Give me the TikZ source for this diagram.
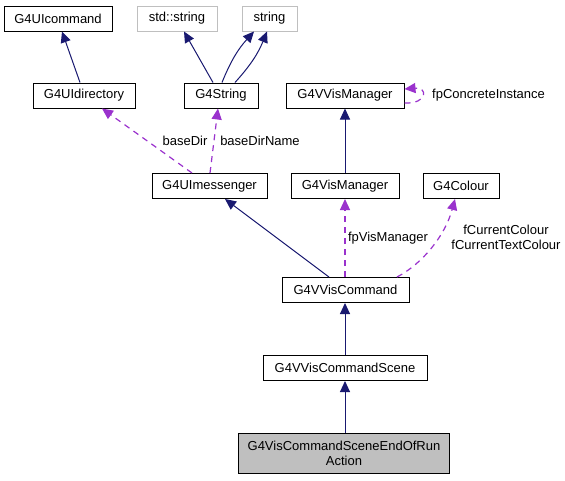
\documentclass[tikz,border=0pt]{standalone}
\usepackage{fontspec}
\setmainfont{Liberation Sans}
\usetikzlibrary{arrows.meta}
\definecolor{navy}{HTML}{191970}
\definecolor{orch}{HTML}{9A32CD}
\definecolor{lgray}{HTML}{BFBFBF}
\begin{document}
\begin{tikzpicture}[x=1pt,y=-1pt,
  every node/.style={font=\fontsize{13}{15}\selectfont, inner sep=0pt},
  cls/.style={draw=black, line width=1pt, fill=white, minimum height=25pt},
  ext/.style={draw=lgray, line width=1pt, fill=white, minimum height=25pt},
  inh/.style={draw=navy, line width=1pt, -{Triangle[length=11pt,width=10pt]}},
  use/.style={draw=orch, line width=1.2pt, dash pattern=on 6pt off 5pt, -{Triangle[length=11pt,width=10pt]}},
  lbl/.style={fill=none}]
\useasboundingbox (0,0) rectangle (565,480);
\node[cls, minimum width=108pt] (uicmd) at (58,18.5) {G4UIcommand};
\node[ext, minimum width=80pt] (stds) at (177,18.5) {std::string};
\node[ext, minimum width=55pt] (str) at (269.5,18.5) {string};
\node[cls, minimum width=102pt] (uidir) at (84,95.5) {G4UIdirectory};
\node[cls, minimum width=74pt] (g4s) at (221,95.5) {G4String};
\node[cls, minimum width=118pt] (vvm) at (345,95.5) {G4VVisManager};
\node[cls, minimum width=115pt] (uimsg) at (209.5,186) {G4UImessenger};
\node[cls, minimum width=108pt] (vm) at (345,186) {G4VisManager};
\node[cls, minimum width=76pt] (col) at (461,186) {G4Colour};
\node[cls, minimum width=127pt] (vvc) at (345.5,290) {G4VVisCommand};
\node[cls, minimum width=164pt] (scene) at (345,368) {G4VVisCommandScene};
\node[cls, fill=lgray, minimum width=211pt, minimum height=40pt, align=center] (eor) at (344,453) {G4VisCommandSceneEndOfRun\\Action};

\draw[inh] ([xshift=-4pt]uidir.north) -- ([xshift=4pt]uicmd.south);
\draw[inh] ([xshift=-8pt]g4s.north) -- ([xshift=7pt]stds.south);
\draw[inh] ([xshift=1pt]g4s.north) to[bend left=10] ([xshift=-15.5pt]str.south);
\draw[inh] ([xshift=14pt]g4s.north) to[bend right=10] ([xshift=-2.5pt]str.south);
\draw[inh] (vm.north) -- (vvm.south);
\draw[inh] ([xshift=-16.5pt]vvc.north) -- ([xshift=15.5pt]uimsg.south);
\draw[inh] (scene.north) -- ([xshift=-0.5pt]vvc.south);
\draw[inh] ([xshift=1pt]eor.north) -- (scene.south);

\draw[use] ([xshift=-17.5pt]uimsg.north) -- ([xshift=18pt]uidir.south);
\node[lbl] (l1) at (185,141) {baseDir};
\draw[use] ([xshift=0.5pt]uimsg.north) -- ([xshift=-3pt]g4s.south);
\node[lbl] (l2) at (260,141) {baseDirName};
\draw[use] ([yshift=-7.5pt]vvm.east) .. controls (428,104) and (428,87) .. ([yshift=6.5pt]vvm.east);
\node[lbl, anchor=west] (l3) at (432,95) {fpConcreteInstance};
\draw[use] ([xshift=-0.5pt]vvc.north) -- (vm.south);
\node[lbl] (l4) at (388,238) {fpVisManager};
\draw[use] ([xshift=51.5pt]vvc.north) .. controls (422,264) and (445,236) .. ([xshift=-6pt]col.south);
\node[lbl, align=center] (l5) at (506,237) {fCurrentColour\\fCurrentTextColour};
\end{tikzpicture}
\end{document}
